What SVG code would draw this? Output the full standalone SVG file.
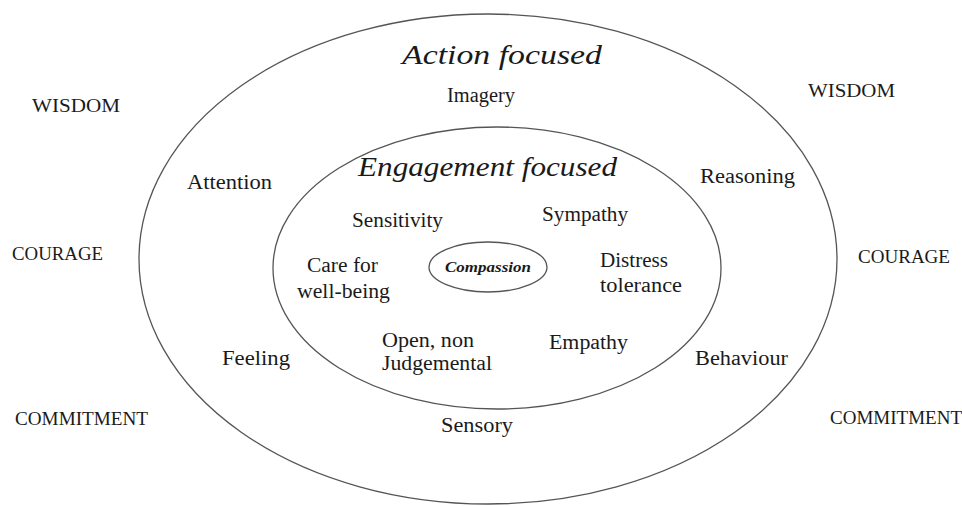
<svg xmlns="http://www.w3.org/2000/svg" width="962" height="506" viewBox="0 0 962 506">
<style>
.ring{fill:none;stroke:#555;stroke-width:1.3}
.t{font-family:"Liberation Serif","Times New Roman",serif;font-size:20px;fill:#1a1a1a}
.c{font-family:"Liberation Serif","Times New Roman",serif;font-size:19px;fill:#1a1a1a}
.h{font-family:"Liberation Serif","Times New Roman",serif;font-style:italic;font-size:28px;fill:#1a1a1a}
.k{font-family:"Liberation Serif","Times New Roman",serif;font-style:italic;font-weight:bold;font-size:15px;fill:#1a1a1a}
</style>
<rect width="962" height="506" fill="#fff"/>
<g id="outer">
<ellipse class="ring" cx="488" cy="259" rx="349" ry="245"/>
<text class="h" x="402" y="64" textLength="200" lengthAdjust="spacingAndGlyphs">Action focused</text>
<text class="t" x="447" y="102" textLength="68" lengthAdjust="spacingAndGlyphs">Imagery</text>
<text class="t" x="187" y="189" textLength="85" lengthAdjust="spacingAndGlyphs">Attention</text>
<text class="t" x="700" y="183" textLength="95" lengthAdjust="spacingAndGlyphs">Reasoning</text>
<text class="t" x="222" y="365" textLength="68" lengthAdjust="spacingAndGlyphs">Feeling</text>
<text class="t" x="695" y="365" textLength="93" lengthAdjust="spacingAndGlyphs">Behaviour</text>
<text class="t" x="441" y="432" textLength="72" lengthAdjust="spacingAndGlyphs">Sensory</text>
</g>
<g id="inner">
<ellipse class="ring" cx="497" cy="268" rx="224" ry="141"/>
<text class="h" x="358" y="176" textLength="259" lengthAdjust="spacingAndGlyphs">Engagement focused</text>
<text class="t" x="352" y="227" textLength="91" lengthAdjust="spacingAndGlyphs">Sensitivity</text>
<text class="t" x="542" y="221" textLength="86" lengthAdjust="spacingAndGlyphs">Sympathy</text>
<text class="t" x="307" y="272" textLength="71" lengthAdjust="spacingAndGlyphs">Care for</text>
<text class="t" x="297" y="298" textLength="93" lengthAdjust="spacingAndGlyphs">well-being</text>
<text class="t" x="600" y="267" textLength="68" lengthAdjust="spacingAndGlyphs">Distress</text>
<text class="t" x="600" y="292" textLength="82" lengthAdjust="spacingAndGlyphs">tolerance</text>
<text class="t" x="382" y="347" textLength="92" lengthAdjust="spacingAndGlyphs">Open, non</text>
<text class="t" x="382" y="370" textLength="110" lengthAdjust="spacingAndGlyphs">Judgemental</text>
<text class="t" x="549" y="349" textLength="79" lengthAdjust="spacingAndGlyphs">Empathy</text>
</g>
<g id="compassion">
<ellipse class="ring" cx="488" cy="267" rx="59" ry="25"/>
<text class="k" x="445" y="272" textLength="86" lengthAdjust="spacingAndGlyphs">Compassion</text>
</g>
<g id="virtues">
<text class="c" x="32" y="112" textLength="88" lengthAdjust="spacingAndGlyphs">WISDOM</text>
<text class="c" x="808" y="97" textLength="87" lengthAdjust="spacingAndGlyphs">WISDOM</text>
<text class="c" x="12" y="260" textLength="91" lengthAdjust="spacingAndGlyphs">COURAGE</text>
<text class="c" x="858" y="263" textLength="92" lengthAdjust="spacingAndGlyphs">COURAGE</text>
<text class="c" x="15" y="425" textLength="133" lengthAdjust="spacingAndGlyphs">COMMITMENT</text>
<text class="c" x="830" y="424" textLength="132" lengthAdjust="spacingAndGlyphs">COMMITMENT</text>
</g>
<g id="connectors"></g>
</svg>
